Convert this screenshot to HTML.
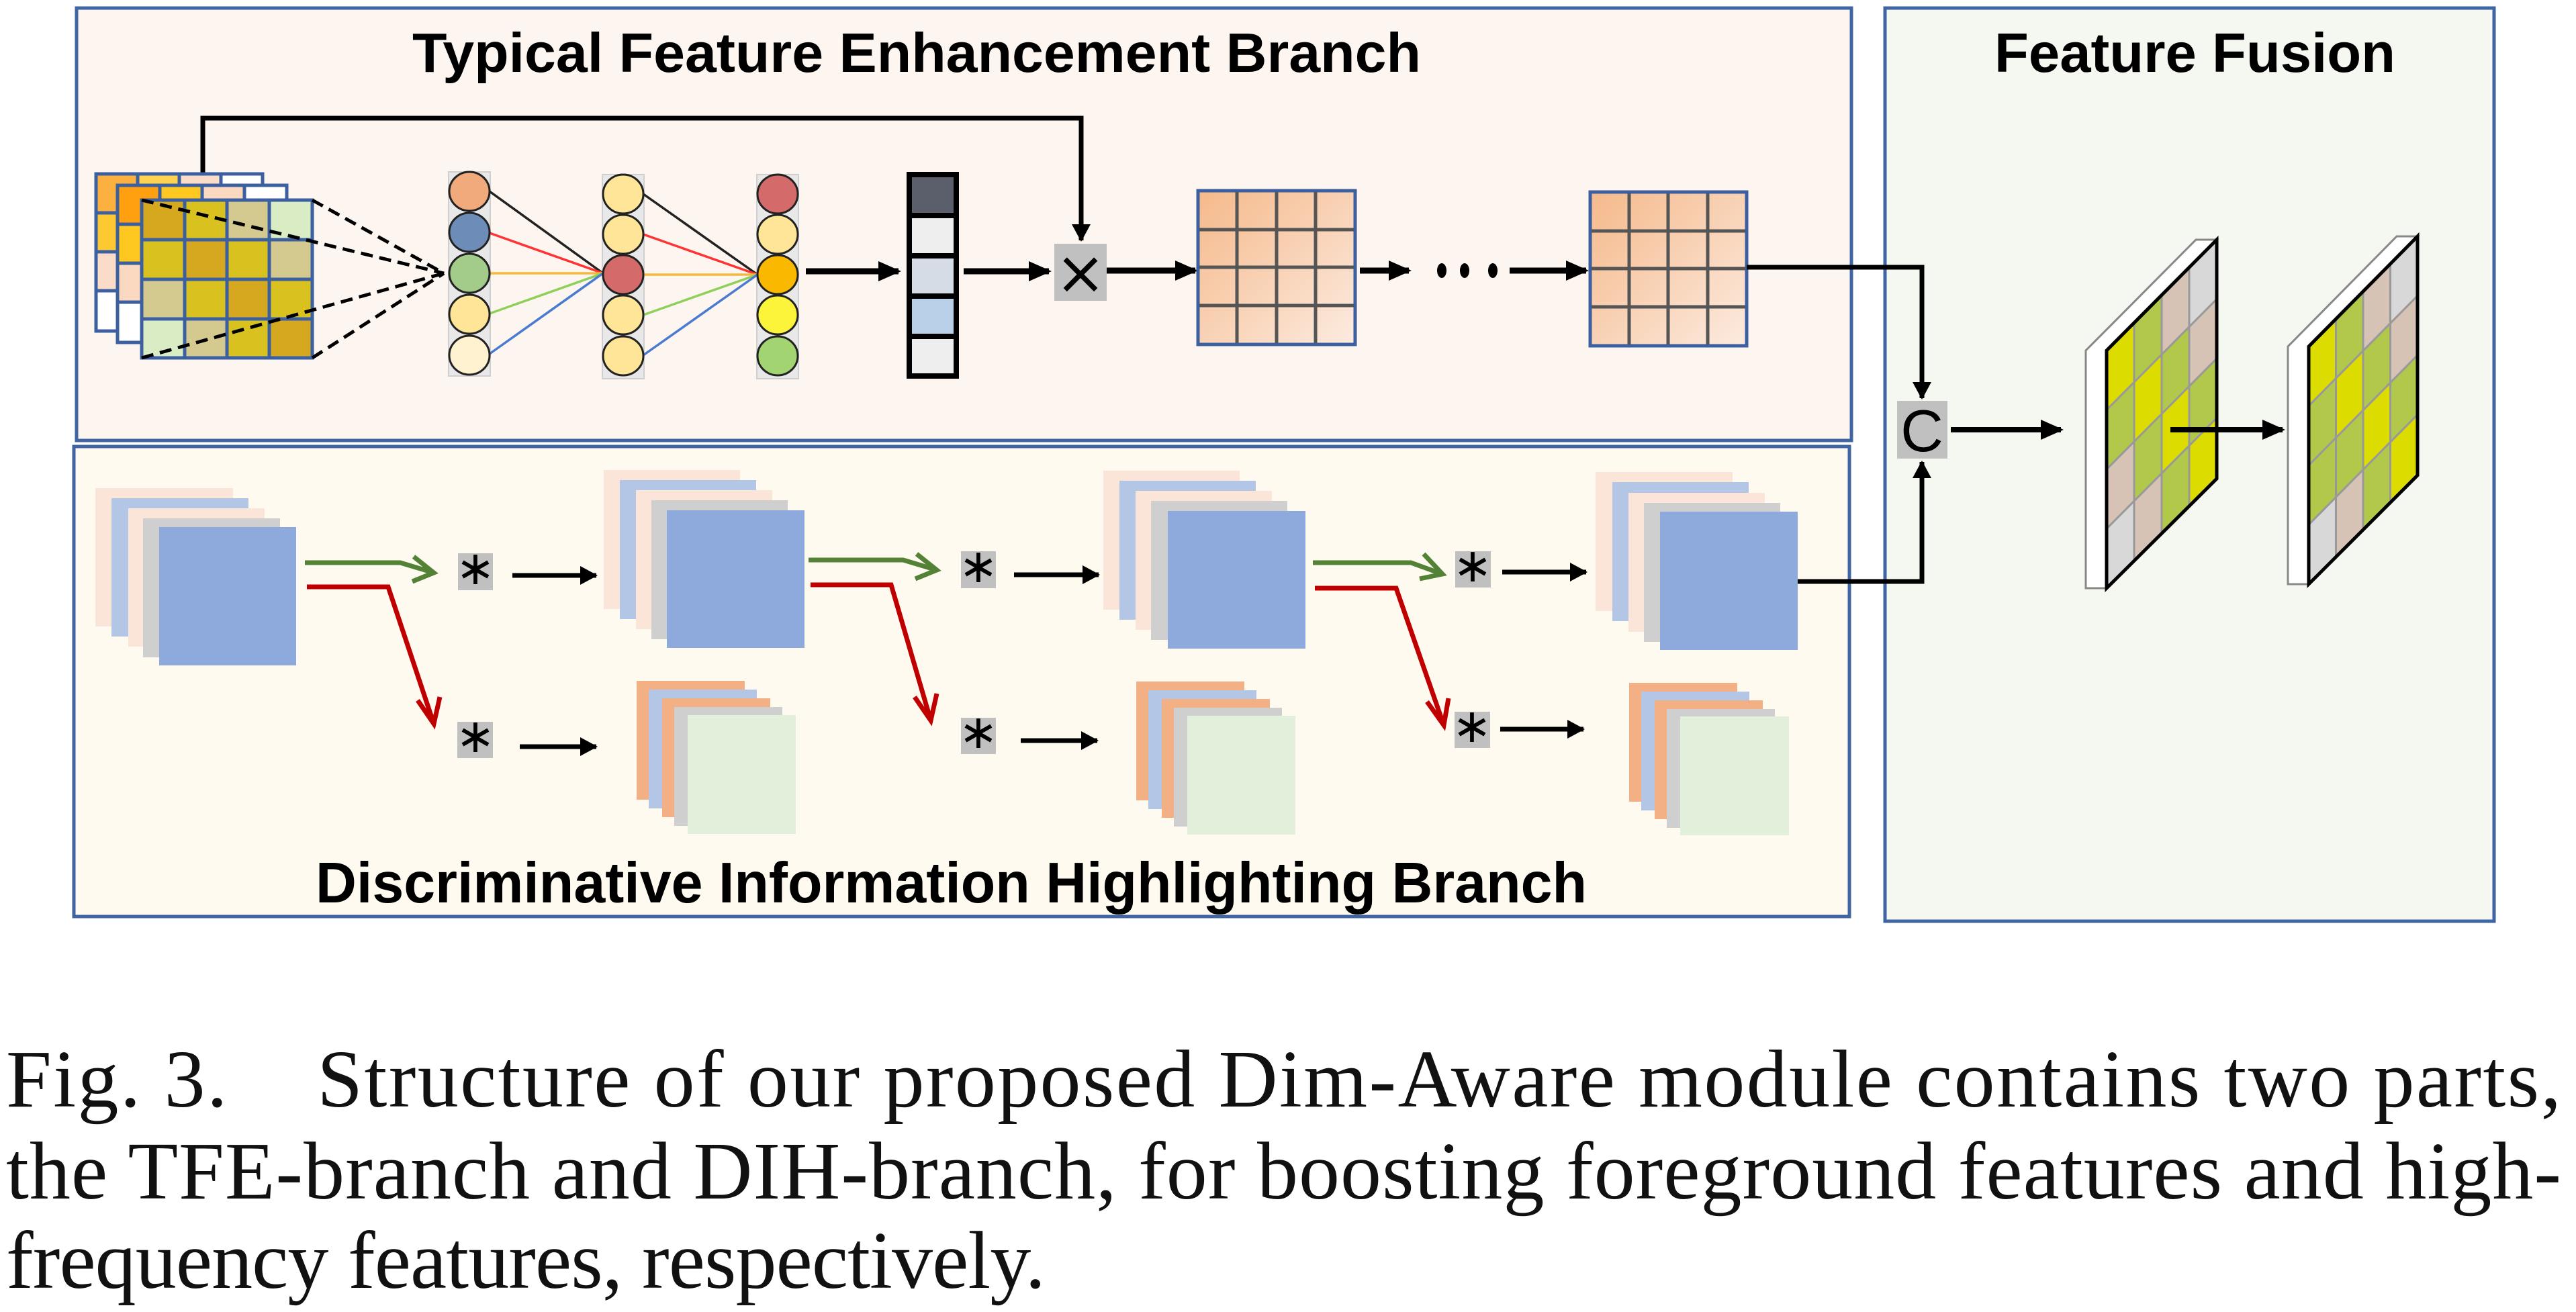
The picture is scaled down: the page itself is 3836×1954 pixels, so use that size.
<!DOCTYPE html>
<html><head><meta charset="utf-8"><style>
html,body{margin:0;padding:0;background:#fff;}
svg{display:block;}
</style></head><body>
<svg width="3836" height="1954" viewBox="0 0 3836 1954" xmlns="http://www.w3.org/2000/svg">
<defs>
<marker id="ah" markerUnits="userSpaceOnUse" markerWidth="34" markerHeight="34" refX="30" refY="17" orient="auto">
<path d="M0,2 L34,17 L0,32 Z" fill="#000"/></marker>
<marker id="ahs" markerUnits="userSpaceOnUse" markerWidth="26" markerHeight="30" refX="24" refY="15" orient="auto">
<path d="M0,1 L26,15 L0,29 Z" fill="#000"/></marker>
<linearGradient id="pg" x1="0" y1="0" x2="1" y2="1">
<stop offset="0" stop-color="#f5b98a"/><stop offset="1" stop-color="#fcebe0"/></linearGradient>
</defs>

<rect x="114" y="12" width="2643" height="644" fill="#fdf5f0" stroke="#4065a5" stroke-width="5"/>
<rect x="110" y="665" width="2644" height="700" fill="#fefaef" stroke="#4065a5" stroke-width="5"/>
<rect x="2807" y="12" width="907" height="1360" fill="#f5f8f1" stroke="#4065a5" stroke-width="5"/>

<g font-family="Liberation Sans, Arial, sans-serif" font-weight="bold" fill="#000">
<text x="614" y="107" font-size="83" textLength="1502" lengthAdjust="spacingAndGlyphs">Typical Feature Enhancement Branch</text>
<text x="2970" y="107" font-size="83" textLength="597" lengthAdjust="spacingAndGlyphs">Feature Fusion</text>
<text x="470" y="1344" font-size="85" textLength="1893" lengthAdjust="spacingAndGlyphs">Discriminative Information Highlighting Branch</text>
</g>

<path d="M302,300 V176 H1610 V358" fill="none" stroke="#000" stroke-width="7" marker-end="url(#ahs)"/>

<g stroke="#3c5fa0" stroke-width="5">
<rect x="143" y="259" width="62" height="58" fill="#fbb040"/><rect x="205" y="259" width="62" height="58" fill="#ffd24f"/><rect x="267" y="259" width="62" height="58" fill="#fbdcc8"/><rect x="329" y="259" width="62" height="58" fill="#fff"/>
<rect x="143" y="317" width="62" height="58" fill="#fdc832"/><rect x="143" y="375" width="62" height="58" fill="#fbdcc8"/><rect x="143" y="433" width="62" height="60" fill="#fff"/>
<rect x="175" y="276" width="63" height="58" fill="#ffa010"/><rect x="238" y="276" width="63" height="58" fill="#ffc820"/><rect x="301" y="276" width="63" height="58" fill="#fbd8c0"/><rect x="364" y="276" width="63" height="58" fill="#fff"/>
<rect x="175" y="334" width="63" height="58" fill="#ffc820"/><rect x="175" y="392" width="63" height="58" fill="#fbd8c0"/><rect x="175" y="450" width="63" height="60" fill="#fff"/>
</g>
<g stroke="#3c5fa0" stroke-width="5">
<rect x="211" y="298" width="64" height="59" fill="#d6a820"/><rect x="275" y="298" width="63" height="59" fill="#d9c21f"/><rect x="338" y="298" width="63" height="59" fill="#d4ca90"/><rect x="401" y="298" width="64" height="59" fill="#d9ecc4"/>
<rect x="211" y="357" width="64" height="59" fill="#d9c21f"/><rect x="275" y="357" width="63" height="59" fill="#d6a820"/><rect x="338" y="357" width="63" height="59" fill="#d9c21f"/><rect x="401" y="357" width="64" height="59" fill="#d4ca90"/>
<rect x="211" y="416" width="64" height="59" fill="#d4ca90"/><rect x="275" y="416" width="63" height="59" fill="#d9c21f"/><rect x="338" y="416" width="63" height="59" fill="#d6a820"/><rect x="401" y="416" width="64" height="59" fill="#d9c21f"/>
<rect x="211" y="475" width="64" height="58" fill="#d9ecc4"/><rect x="275" y="475" width="63" height="58" fill="#d4ca90"/><rect x="338" y="475" width="63" height="58" fill="#d9c21f"/><rect x="401" y="475" width="64" height="58" fill="#d6a820"/>
</g>
<g stroke="#000" stroke-width="5" stroke-dasharray="18,10" fill="none">
<line x1="211" y1="298" x2="661" y2="407"/><line x1="465" y1="298" x2="661" y2="407"/>
<line x1="211" y1="533" x2="661" y2="407"/><line x1="465" y1="533" x2="661" y2="407"/>
</g>

<g fill="#e8e8e8" stroke="#cfcfcf" stroke-width="2">
<rect x="668" y="256" width="62" height="304"/><rect x="897" y="260" width="62" height="304"/><rect x="1127" y="260" width="62" height="304"/>
</g>
<g stroke-width="3.5" fill="none">
<line x1="729" y1="285" x2="898" y2="407" stroke="#222"/>
<line x1="729" y1="347" x2="898" y2="407" stroke="#f33"/>
<line x1="729" y1="407" x2="898" y2="407" stroke="#f5b83a"/>
<line x1="729" y1="467" x2="898" y2="407" stroke="#8fd05a"/>
<line x1="729" y1="527" x2="898" y2="407" stroke="#4a7bd0"/>
<line x1="958" y1="289" x2="1128" y2="409" stroke="#222"/>
<line x1="958" y1="349" x2="1128" y2="409" stroke="#f33"/>
<line x1="958" y1="409" x2="1128" y2="409" stroke="#f5b83a"/>
<line x1="958" y1="469" x2="1128" y2="409" stroke="#8fd05a"/>
<line x1="958" y1="529" x2="1128" y2="409" stroke="#4a7bd0"/>
</g>
<g stroke="#222" stroke-width="3">
<ellipse cx="699" cy="285" rx="30" ry="29" fill="#f0aa7c"/>
<ellipse cx="699" cy="346" rx="30" ry="29" fill="#6e8cb8"/>
<ellipse cx="699" cy="407" rx="30" ry="29" fill="#a3cc8a"/>
<ellipse cx="699" cy="468" rx="30" ry="29" fill="#fee597"/>
<ellipse cx="699" cy="529" rx="30" ry="29" fill="#fff2d0"/>
<ellipse cx="928" cy="289" rx="30" ry="29" fill="#fee597"/>
<ellipse cx="928" cy="349" rx="30" ry="29" fill="#fee597"/>
<ellipse cx="928" cy="409" rx="30" ry="29" fill="#d46a6a"/>
<ellipse cx="928" cy="469" rx="30" ry="29" fill="#fee597"/>
<ellipse cx="928" cy="530" rx="30" ry="29" fill="#fee597"/>
<ellipse cx="1158" cy="289" rx="30" ry="29" fill="#d46a6a"/>
<ellipse cx="1158" cy="349" rx="30" ry="29" fill="#fee597"/>
<ellipse cx="1158" cy="409" rx="30" ry="29" fill="#fbb800"/>
<ellipse cx="1158" cy="469" rx="30" ry="29" fill="#fbf43a"/>
<ellipse cx="1158" cy="530" rx="30" ry="29" fill="#a2d472"/>
</g>

<g stroke="#000" stroke-width="9" fill="none">
<line x1="1200" y1="404" x2="1338" y2="404" marker-end="url(#ah)"/>
<line x1="1435" y1="404" x2="1562" y2="404" marker-end="url(#ah)"/>
<line x1="1648" y1="403" x2="1780" y2="403" marker-end="url(#ah)"/>
<line x1="2025" y1="403" x2="2098" y2="403" marker-end="url(#ah)"/>
<line x1="2248" y1="403" x2="2362" y2="403" marker-end="url(#ah)"/>
</g>
<g fill="#000"><ellipse cx="2147" cy="403" rx="7" ry="11"/><ellipse cx="2181" cy="403" rx="7" ry="11"/><ellipse cx="2223" cy="403" rx="7" ry="11"/></g>

<g stroke="#000" stroke-width="8">
<rect x="1354" y="260" width="70" height="61" fill="#5a5f6b"/>
<rect x="1354" y="321" width="70" height="60" fill="#eeeeee"/>
<rect x="1354" y="381" width="70" height="60" fill="#d6dce6"/>
<rect x="1354" y="441" width="70" height="60" fill="#b9d1e8"/>
<rect x="1354" y="501" width="70" height="59" fill="#eeeeee"/>
</g>
<rect x="1570" y="363" width="78" height="85" fill="#c0c0c0"/>
<text x="1609" y="437" font-family="DejaVu Sans, sans-serif" font-size="90" text-anchor="middle" fill="#000">×</text>

<rect x="1784" y="284" width="234" height="229" fill="url(#pg)" stroke="#3c5fa0" stroke-width="5"/>
<g stroke="#555" stroke-width="5"><line x1="1842" y1="286" x2="1842" y2="511"/><line x1="1901" y1="286" x2="1901" y2="511"/><line x1="1959" y1="286" x2="1959" y2="511"/>
<line x1="1786" y1="342" x2="2016" y2="342"/><line x1="1786" y1="398" x2="2016" y2="398"/><line x1="1786" y1="455" x2="2016" y2="455"/></g>
<rect x="2368" y="286" width="233" height="229" fill="url(#pg)" stroke="#3c5fa0" stroke-width="5"/>
<g stroke="#555" stroke-width="5"><line x1="2426" y1="288" x2="2426" y2="513"/><line x1="2484" y1="288" x2="2484" y2="513"/><line x1="2543" y1="288" x2="2543" y2="513"/>
<line x1="2370" y1="344" x2="2599" y2="344"/><line x1="2370" y1="400" x2="2599" y2="400"/><line x1="2370" y1="457" x2="2599" y2="457"/></g>

<path d="M2601,398 H2862 V593" fill="none" stroke="#000" stroke-width="7" marker-end="url(#ahs)"/>
<path d="M2677,866 H2862 V688" fill="none" stroke="#000" stroke-width="7" marker-end="url(#ahs)"/>
<rect x="2825" y="597" width="75" height="86" fill="#c0c0c0"/>
<text x="2862" y="672" font-family="Liberation Sans, sans-serif" font-size="88" text-anchor="middle" fill="#000">C</text>
<line x1="2905" y1="640" x2="3069" y2="640" stroke="#000" stroke-width="8" marker-end="url(#ah)"/>

<polygon points="3106,876 3106,522 3270,357 3301,357 3137,522 3137,876" fill="#fff" stroke="#888" stroke-width="3"/>
<g transform="matrix(41 -41.25 0 88.5 3137 522)">
<rect x="0" y="0" width="1" height="1" fill="#dcdc00" stroke="#999" stroke-width="3" vector-effect="non-scaling-stroke"/><rect x="1" y="0" width="1" height="1" fill="#b2c84a" stroke="#999" stroke-width="3" vector-effect="non-scaling-stroke"/><rect x="2" y="0" width="1" height="1" fill="#d6c3b5" stroke="#999" stroke-width="3" vector-effect="non-scaling-stroke"/><rect x="3" y="0" width="1" height="1" fill="#d8d8d8" stroke="#999" stroke-width="3" vector-effect="non-scaling-stroke"/>
<rect x="0" y="1" width="1" height="1" fill="#b2c84a" stroke="#999" stroke-width="3" vector-effect="non-scaling-stroke"/><rect x="1" y="1" width="1" height="1" fill="#dcdc00" stroke="#999" stroke-width="3" vector-effect="non-scaling-stroke"/><rect x="2" y="1" width="1" height="1" fill="#b2c84a" stroke="#999" stroke-width="3" vector-effect="non-scaling-stroke"/><rect x="3" y="1" width="1" height="1" fill="#d6c3b5" stroke="#999" stroke-width="3" vector-effect="non-scaling-stroke"/>
<rect x="0" y="2" width="1" height="1" fill="#d6c3b5" stroke="#999" stroke-width="3" vector-effect="non-scaling-stroke"/><rect x="1" y="2" width="1" height="1" fill="#b2c84a" stroke="#999" stroke-width="3" vector-effect="non-scaling-stroke"/><rect x="2" y="2" width="1" height="1" fill="#dcdc00" stroke="#999" stroke-width="3" vector-effect="non-scaling-stroke"/><rect x="3" y="2" width="1" height="1" fill="#b2c84a" stroke="#999" stroke-width="3" vector-effect="non-scaling-stroke"/>
<rect x="0" y="3" width="1" height="1" fill="#d8d8d8" stroke="#999" stroke-width="3" vector-effect="non-scaling-stroke"/><rect x="1" y="3" width="1" height="1" fill="#d6c3b5" stroke="#999" stroke-width="3" vector-effect="non-scaling-stroke"/><rect x="2" y="3" width="1" height="1" fill="#b2c84a" stroke="#999" stroke-width="3" vector-effect="non-scaling-stroke"/><rect x="3" y="3" width="1" height="1" fill="#dcdc00" stroke="#999" stroke-width="3" vector-effect="non-scaling-stroke"/>
</g>
<polygon points="3137,522 3301,357 3301,713 3137,876" fill="none" stroke="#000" stroke-width="5"/>

<polygon points="3407,870 3407,516 3569,352 3600,352 3438,516 3438,870" fill="#fff" stroke="#888" stroke-width="3"/>
<g transform="matrix(40.5 -41 0 88.5 3438 516)">
<rect x="0" y="0" width="1" height="1" fill="#dcdc00" stroke="#999" stroke-width="3" vector-effect="non-scaling-stroke"/><rect x="1" y="0" width="1" height="1" fill="#b2c84a" stroke="#999" stroke-width="3" vector-effect="non-scaling-stroke"/><rect x="2" y="0" width="1" height="1" fill="#d6c3b5" stroke="#999" stroke-width="3" vector-effect="non-scaling-stroke"/><rect x="3" y="0" width="1" height="1" fill="#d8d8d8" stroke="#999" stroke-width="3" vector-effect="non-scaling-stroke"/>
<rect x="0" y="1" width="1" height="1" fill="#b2c84a" stroke="#999" stroke-width="3" vector-effect="non-scaling-stroke"/><rect x="1" y="1" width="1" height="1" fill="#dcdc00" stroke="#999" stroke-width="3" vector-effect="non-scaling-stroke"/><rect x="2" y="1" width="1" height="1" fill="#b2c84a" stroke="#999" stroke-width="3" vector-effect="non-scaling-stroke"/><rect x="3" y="1" width="1" height="1" fill="#d6c3b5" stroke="#999" stroke-width="3" vector-effect="non-scaling-stroke"/>
<rect x="0" y="2" width="1" height="1" fill="#b2c84a" stroke="#999" stroke-width="3" vector-effect="non-scaling-stroke"/><rect x="1" y="2" width="1" height="1" fill="#b2c84a" stroke="#999" stroke-width="3" vector-effect="non-scaling-stroke"/><rect x="2" y="2" width="1" height="1" fill="#dcdc00" stroke="#999" stroke-width="3" vector-effect="non-scaling-stroke"/><rect x="3" y="2" width="1" height="1" fill="#b2c84a" stroke="#999" stroke-width="3" vector-effect="non-scaling-stroke"/>
<rect x="0" y="3" width="1" height="1" fill="#d8d8d8" stroke="#999" stroke-width="3" vector-effect="non-scaling-stroke"/><rect x="1" y="3" width="1" height="1" fill="#d6c3b5" stroke="#999" stroke-width="3" vector-effect="non-scaling-stroke"/><rect x="2" y="3" width="1" height="1" fill="#b2c84a" stroke="#999" stroke-width="3" vector-effect="non-scaling-stroke"/><rect x="3" y="3" width="1" height="1" fill="#dcdc00" stroke="#999" stroke-width="3" vector-effect="non-scaling-stroke"/>
</g>
<polygon points="3438,516 3600,352 3600,708 3438,870" fill="none" stroke="#000" stroke-width="5"/>
<line x1="3232" y1="640" x2="3399" y2="640" stroke="#000" stroke-width="8" marker-end="url(#ah)"/>

<g>
<rect x="142" y="727" width="205" height="206" fill="#fbe5d8"/><rect x="166" y="742" width="204" height="206" fill="#b3c6e5"/><rect x="191" y="757" width="203" height="206" fill="#fbe5d8"/><rect x="213" y="772" width="204" height="207" fill="#d0cfcf"/><rect x="237" y="785" width="204" height="206" fill="#8eaadc"/>
<rect x="899" y="700" width="203" height="207" fill="#fbe5d8"/><rect x="923" y="715" width="203" height="207" fill="#b3c6e5"/><rect x="947" y="730" width="203" height="207" fill="#fbe5d8"/><rect x="970" y="745" width="203" height="207" fill="#d0cfcf"/><rect x="993" y="760" width="205" height="205" fill="#8eaadc"/>
<rect x="1643" y="701" width="203" height="207" fill="#fbe5d8"/><rect x="1667" y="716" width="203" height="207" fill="#b3c6e5"/><rect x="1691" y="731" width="203" height="207" fill="#fbe5d8"/><rect x="1714" y="746" width="203" height="207" fill="#d0cfcf"/><rect x="1739" y="761" width="205" height="205" fill="#8eaadc"/>
<rect x="2376" y="703" width="204" height="207" fill="#fbe5d8"/><rect x="2401" y="718" width="203" height="207" fill="#b3c6e5"/><rect x="2425" y="734" width="203" height="207" fill="#fbe5d8"/><rect x="2448" y="749" width="203" height="207" fill="#d0cfcf"/><rect x="2472" y="762" width="205" height="206" fill="#8eaadc"/>
</g>
<g>
<rect x="948" y="1014" width="161" height="177" fill="#f2b084"/><rect x="966" y="1027" width="161" height="177" fill="#b3c6e5"/><rect x="986" y="1040" width="161" height="177" fill="#f2b084"/><rect x="1004" y="1053" width="161" height="177" fill="#d0cfcf"/><rect x="1024" y="1065" width="161" height="177" fill="#e2efda"/>
<rect x="1692" y="1015" width="161" height="177" fill="#f2b084"/><rect x="1710" y="1028" width="161" height="177" fill="#b3c6e5"/><rect x="1730" y="1041" width="161" height="177" fill="#f2b084"/><rect x="1748" y="1054" width="161" height="177" fill="#d0cfcf"/><rect x="1768" y="1066" width="161" height="177" fill="#e2efda"/>
<rect x="2426" y="1017" width="161" height="177" fill="#f2b084"/><rect x="2444" y="1030" width="161" height="177" fill="#b3c6e5"/><rect x="2464" y="1043" width="161" height="177" fill="#f2b084"/><rect x="2482" y="1056" width="161" height="177" fill="#d0cfcf"/><rect x="2502" y="1067" width="162" height="177" fill="#e2efda"/>
</g>

<g fill="none" stroke-width="7">
<path d="M454,838 H596 L646,853" stroke="#538135"/><path d="M616,829 L646,853 L614,866" stroke="#538135"/>
<path d="M457,874 H578 L646,1078" stroke="#c00000"/><path d="M622,1043 L646,1078 L655,1038" stroke="#c00000"/>
<path d="M1204,834 H1345 L1395,849" stroke="#538135"/><path d="M1365,825 L1395,849 L1363,862" stroke="#538135"/>
<path d="M1207,871 H1327 L1386,1073" stroke="#c00000"/><path d="M1362,1038 L1386,1073 L1395,1033" stroke="#c00000"/>
<path d="M1955,838 H2101 L2148,855" stroke="#538135"/><path d="M2120,825 L2148,855 L2114,862" stroke="#538135"/>
<path d="M1958,876 H2079 L2150,1080" stroke="#c00000"/><path d="M2125,1045 L2150,1080 L2157,1040" stroke="#c00000"/>
</g>

<g fill="#c0c0c0">
<rect x="682" y="824" width="52" height="55"/><rect x="681" y="1075" width="53" height="54"/>
<rect x="1431" y="821" width="52" height="55"/><rect x="1431" y="1069" width="52" height="54"/>
<rect x="2167" y="821" width="53" height="54"/><rect x="2166" y="1060" width="53" height="54"/>
</g>
<g font-family="DejaVu Sans, sans-serif" font-size="70" text-anchor="middle" fill="#000">
<text x="708" y="870">∗</text><text x="708" y="1120">∗</text>
<text x="1457" y="867">∗</text><text x="1457" y="1114">∗</text>
<text x="2193" y="866">∗</text><text x="2192" y="1105">∗</text>
</g>
<g stroke="#000" stroke-width="7">
<line x1="763" y1="857" x2="888" y2="857" marker-end="url(#ahs)"/>
<line x1="774" y1="1112" x2="888" y2="1112" marker-end="url(#ahs)"/>
<line x1="1510" y1="856" x2="1636" y2="856" marker-end="url(#ahs)"/>
<line x1="1520" y1="1103" x2="1634" y2="1103" marker-end="url(#ahs)"/>
<line x1="2237" y1="852" x2="2362" y2="852" marker-end="url(#ahs)"/>
<line x1="2234" y1="1086" x2="2358" y2="1086" marker-end="url(#ahs)"/>
</g>

<g font-family="Liberation Serif, Times New Roman, serif" font-size="122" fill="#111">
<text x="9" y="1648" textLength="3805" lengthAdjust="spacing" xml:space="preserve">Fig. 3.    Structure of our proposed Dim-Aware module contains two parts,</text>
<text x="9" y="1785" textLength="3805" lengthAdjust="spacing">the TFE-branch and DIH-branch, for boosting foreground features and high-</text>
<text x="9" y="1918" textLength="1548" lengthAdjust="spacing">frequency features, respectively.</text>
</g>
</svg>
</body></html>
